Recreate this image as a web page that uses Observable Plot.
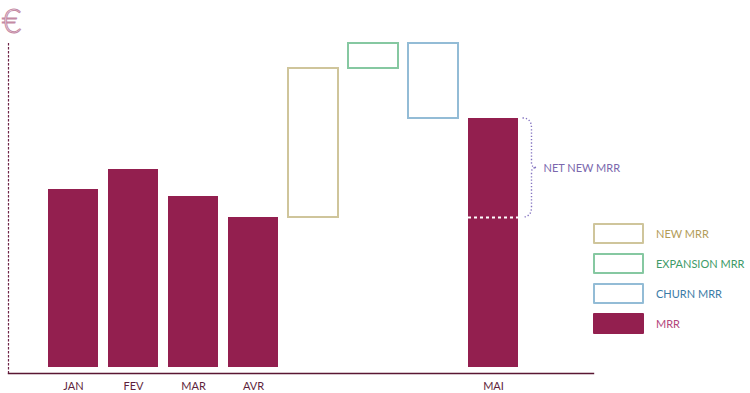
<!DOCTYPE html>
<html><head><meta charset="utf-8">
<script src="https://cdn.jsdelivr.net/npm/d3@7"></script>
<script src="https://cdn.jsdelivr.net/npm/@observablehq/plot@0.6"></script>
<style>
body{margin:0;background:#fff;font-family:Lato,sans-serif;}
#wrap{position:relative;width:750px;height:393px;overflow:hidden;}
#euro{position:absolute;left:2px;top:0px;display:block;font:300 33px Lato;color:#fff;-webkit-text-stroke:1px #c48aa5;line-height:normal;}
#legend{position:absolute;left:593px;top:223px;}
.row{display:flex;align-items:center;height:20px;margin-bottom:10px;}
.sw{width:51px;height:21px;box-sizing:border-box;border:2px solid;border-radius:1px;}
.lb{margin-left:12px;font-size:11px;font-family:Lato;}
</style></head><body>
<div id="wrap"><div id="chart"></div><span id="euro">€</span><div id="legend"></div></div>
<script>
const categories = ["JAN","FEV","MAR","AVR","NEW","EXPANSION","CHURN","MAI"];
const tickLabels = ["JAN","FEV","MAR","AVR","","","","MAI"];
const mrrMonths = ["JAN","FEV","MAR","AVR","MAI"];
const mrrValues = [178,198,171,150,249];
const flowNames = ["NEW","EXPANSION","CHURN"];
const flowStart = [150,299,324];
const flowEnd = [299,324,249];
const flowColors = ["#cfc59b","#86c8a1","#93bcd6"];
const legendLabels = ["NEW MRR","EXPANSION MRR","CHURN MRR","MRR"];
const legendText = ["#b29c58","#3e9b68","#3b7ca7","#b2457c"];
const barColor = "#931f4f";

const bars = mrrMonths.map((m,i)=>({m, v:mrrValues[i]}));
const flows = flowNames.map((n,i)=>({n, y1:flowStart[i], y2:flowEnd[i], c:flowColors[i]}));
const netBase = [{m:"MAI", v:mrrValues[3]}];

const chart = Plot.plot({
  width: 750, height: 393,
  marginLeft: 8, marginRight: 157, marginTop: 43, marginBottom: 20,
  insetBottom: 6,
  style: {fontFamily: "Lato", background: "white"},
  x: {domain: categories, range: [38, 528], padding: 1/6, label: null, axis: null},
  y: {domain: [0, 324], axis: null, label: null},
  marks: [
    Plot.frame({anchor: "left", stroke: "#6e2446", strokeDasharray: "1.3,2.7", strokeWidth: 1.2}),
    Plot.frame({anchor: "bottom", stroke: "#5a1733", strokeWidth: 1.4}),
    Plot.barY(bars, {x: "m", y: "v", fill: barColor}),
    Plot.rectY(flows, {x: "n", y1: "y1", y2: "y2", fill: "none", stroke: "c", strokeWidth: 2}),
    Plot.tickY(netBase, {x: "m", y: "v", stroke: "white", strokeWidth: 2, strokeDasharray: "3,3"}),
    Plot.text([{m:"MAI", v:(mrrValues[3]+mrrValues[4])/2}], {x: "m", y: "v", text: () => "NET NEW MRR", dx: 50, textAnchor: "start", fill: "#7a68ad", fontSize: 11}),
    Plot.axisX({tickSize: 0, tickPadding: 9, fontSize: 11, fill: "#5e1f3c", tickFormat: (d) => tickLabels[categories.indexOf(d)], label: null})
  ]
});
document.getElementById("chart").append(chart);

// curly brace built from the plot's own scales
const sx = chart.scale("x"), sy = chart.scale("y");
const x0 = sx.apply("MAI") + sx.bandwidth + 4.5;
const yTop = sy.apply(mrrValues[4]), yBot = sy.apply(mrrValues[3]), ym = (yTop + yBot) / 2;
const p = d3.path();
p.moveTo(x0, yTop);
p.quadraticCurveTo(x0 + 9, yTop, x0 + 9, yTop + 10);
p.lineTo(x0 + 9, ym - 5);
p.quadraticCurveTo(x0 + 9, ym, x0 + 14, ym);
p.quadraticCurveTo(x0 + 9, ym, x0 + 9, ym + 5);
p.lineTo(x0 + 9, yBot - 10);
p.quadraticCurveTo(x0 + 9, yBot, x0, yBot);
d3.select(chart).append("path").attr("d", p.toString()).attr("fill", "none")
  .attr("stroke", "#8474c0").attr("stroke-width", 1.4).attr("stroke-dasharray", "1.3,2");

// legend
const lg = d3.select("#legend");
legendLabels.forEach((t, i) => {
  const r = lg.append("div").attr("class", "row");
  const sw = r.append("div").attr("class", "sw");
  if (i < 3) sw.style("border-color", flowColors[i]);
  else sw.style("border-color", barColor).style("background", barColor);
  r.append("div").attr("class", "lb").style("color", legendText[i]).text(t);
});
</script>
</body></html>
